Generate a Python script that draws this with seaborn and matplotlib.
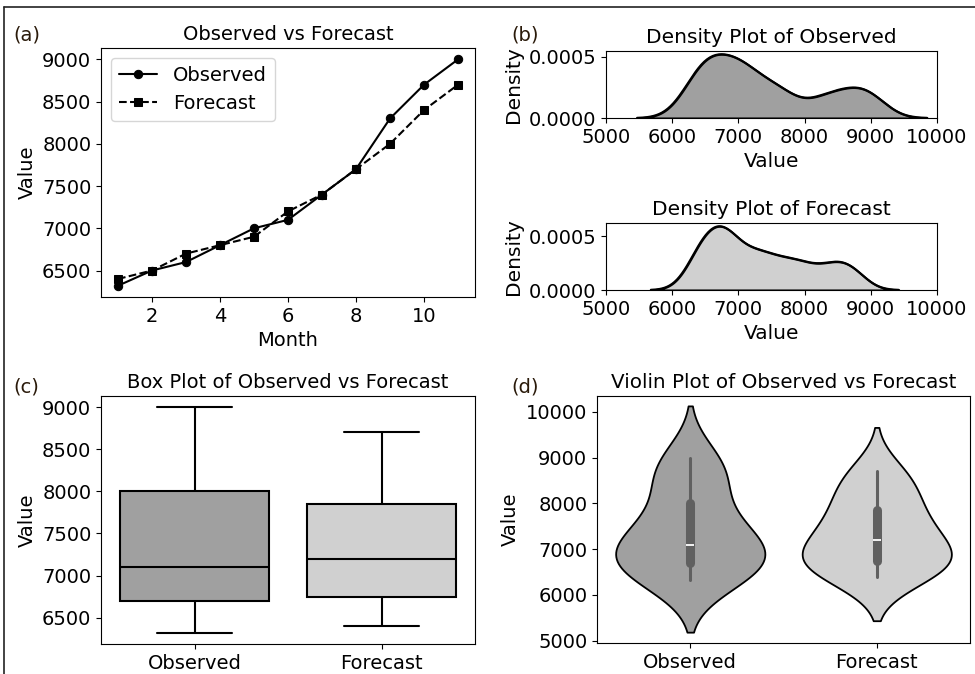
import matplotlib
matplotlib.use('Agg')
import matplotlib.pyplot as plt
import pandas as pd
import seaborn as sns
from matplotlib.lines import Line2D
from matplotlib.ticker import MultipleLocator, FormatStrFormatter

# Data
months = [1, 2, 3, 4, 5, 6, 7, 8, 9, 10, 11]
observed = [6320, 6500, 6600, 6800, 7000, 7100, 7400, 7700, 8300, 8700, 9000]
forecast = [6400, 6500, 6700, 6800, 6900, 7200, 7400, 7700, 8000, 8400, 8700]
groups = ['Observed', 'Forecast']
obs_color = '#a0a0a0'
fc_color = '#d0d0d0'

df = pd.DataFrame({'Month': months, 'Observed': observed, 'Forecast': forecast})
df_long = df.melt(id_vars='Month', value_vars=groups, var_name='Type', value_name='Value')

sns.set_style('ticks', rc={'text.color': 'black', 'axes.labelcolor': 'black',
                           'xtick.color': 'black', 'ytick.color': 'black',
                           'axes.edgecolor': 'black'})
plt.rcParams['font.family'] = ['DejaVu Sans']

fig = plt.figure(figsize=(9.75, 6.74), dpi=100)

# (a) line plot
ax_a = fig.add_axes([0.1036, 0.5593, 0.3836, 0.3694])
sns.lineplot(data=df, x='Month', y='Observed', marker='o', color='black', label='Observed',
             ax=ax_a, markersize=6, markeredgecolor='black', linewidth=1.5)
sns.lineplot(data=df, x='Month', y='Forecast', marker='s', color='black', linestyle='--',
             label='Forecast', ax=ax_a, markersize=6, markeredgecolor='black', linewidth=1.5)
ax_a.set_title('Observed vs Forecast', fontsize=14)
ax_a.set_xlabel('Month', fontsize=14)
ax_a.set_ylabel('Value', fontsize=14)
ax_a.set_xticks([2, 4, 6, 8, 10])
ax_a.set_yticks([6500, 7000, 7500, 8000, 8500, 9000])
ax_a.tick_params(labelsize=14)
ax_a.legend(loc='upper left', fontsize=14)

# (b) density plots
ax_b1 = fig.add_axes([0.6215, 0.8249, 0.3395, 0.0994])
ax_b2 = fig.add_axes([0.6215, 0.5697, 0.3395, 0.0994])
for ax, name, col in [(ax_b1, 'Observed', obs_color), (ax_b2, 'Forecast', fc_color)]:
    sns.kdeplot(x=df[name], fill=True, color=col, alpha=1, bw_adjust=0.5, ax=ax,
                edgecolor='black', linewidth=1.5)
    sns.kdeplot(x=df[name], bw_adjust=0.5, ax=ax, color='black', linewidth=1.5)
    ax.set_title(f'Density Plot of {name}', fontsize=14.5)
    ax.set_xlim(5000, 10000)
    ax.set_xticks([5000, 6000, 7000, 8000, 9000, 10000])
    ax.yaxis.set_major_locator(MultipleLocator(0.0005))
    ax.yaxis.set_major_formatter(FormatStrFormatter('%.4f'))
    ax.set_xlabel('Value', fontsize=14.5)
    ax.set_ylabel('Density', fontsize=14.5)
    ax.tick_params(labelsize=14)

# (c) box plot
ax_c = fig.add_axes([0.1036, 0.0445, 0.3836, 0.368])
sns.boxplot(data=df_long, x='Type', y='Value', hue='Type', palette=[obs_color, fc_color],
            linecolor='black', linewidth=1.5, saturation=1, ax=ax_c, legend=False, width=0.8)
ax_c.set_title('Box Plot of Observed vs Forecast', fontsize=14)
ax_c.set_xlabel('')
ax_c.set_ylabel('Value', fontsize=14)
ax_c.set_yticks([6500, 7000, 7500, 8000, 8500, 9000])
ax_c.tick_params(labelsize=14)

# (d) violin plot
ax_d = fig.add_axes([0.6123, 0.046, 0.3826, 0.3665])
sns.violinplot(data=df_long, x='Type', y='Value', hue='Type', palette=[obs_color, fc_color],
               saturation=1, ax=ax_d, legend=False, linewidth=1.3,
               inner_kws=dict(box_width=6.5, whis_width=2.2))
for coll in ax_d.collections:
    coll.set_edgecolor('black')
ax_d.set_title('Violin Plot of Observed vs Forecast', fontsize=14.3)
ax_d.set_xlabel('')
ax_d.set_ylabel('Value', fontsize=14)
ax_d.set_ylim(4950, 10350)
ax_d.set_yticks([5000, 6000, 7000, 8000, 9000, 10000])
ax_d.tick_params(labelsize=14)

# panel letters and frame lines
for lbl, x, y in [('(a)', 0.014, 0.94), ('(b)', 0.524, 0.94), ('(c)', 0.014, 0.418), ('(d)', 0.524, 0.418)]:
    fig.text(x, y, lbl, fontsize=14, color='#2a1a0a')
fig.add_artist(Line2D([0.004, 1.0], [0.99, 0.99], color='#222222', linewidth=1.2))
fig.add_artist(Line2D([0.004, 0.004], [0.0, 0.99], color='#222222', linewidth=1.2))

fig.savefig('out.png', dpi=100)
